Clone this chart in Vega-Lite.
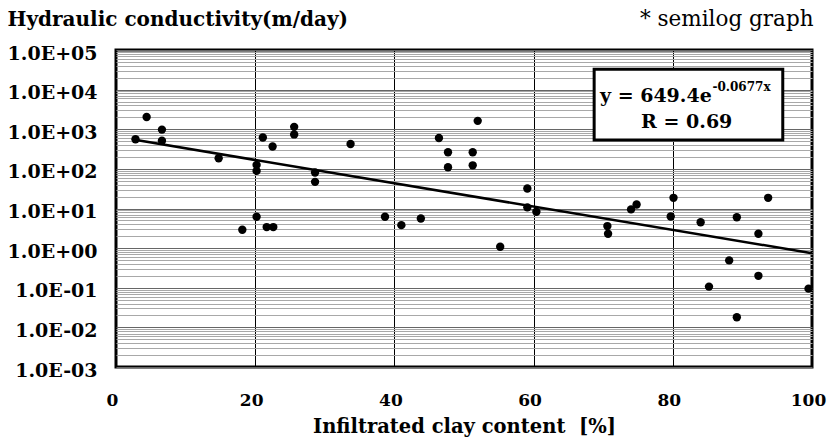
{
  "$schema": "https://vega.github.io/schema/vega-lite/v6.json",
  "width": 696,
  "height": 317,
  "autosize": "none",
  "padding": {"left": 116, "top": 50, "right": 17, "bottom": 71},
  "background": "white",
  "config": {
    "view": {"stroke": "black", "strokeWidth": 3},
    "axis": {"labelColor": "black", "titleColor": "black"}
  },
  "datasets": {
    "points": [
      {"clay": 2.8, "k": 560},
      {"clay": 4.4, "k": 2040},
      {"clay": 6.6, "k": 980},
      {"clay": 6.6, "k": 515},
      {"clay": 14.75, "k": 186},
      {"clay": 18.15, "k": 2.9},
      {"clay": 20.2, "k": 126},
      {"clay": 20.2, "k": 89},
      {"clay": 20.2, "k": 6.2},
      {"clay": 21.1, "k": 620},
      {"clay": 21.65, "k": 3.4},
      {"clay": 22.5, "k": 366},
      {"clay": 22.6, "k": 3.4},
      {"clay": 25.6, "k": 1150},
      {"clay": 25.6, "k": 740},
      {"clay": 28.6, "k": 81},
      {"clay": 28.6, "k": 47},
      {"clay": 33.7, "k": 425},
      {"clay": 38.65, "k": 6.2},
      {"clay": 41.0, "k": 3.8},
      {"clay": 43.8, "k": 5.6},
      {"clay": 46.4, "k": 600},
      {"clay": 47.7, "k": 263},
      {"clay": 47.7, "k": 110},
      {"clay": 51.25, "k": 263},
      {"clay": 51.25, "k": 123},
      {"clay": 51.97, "k": 1630},
      {"clay": 55.2, "k": 1.08},
      {"clay": 59.1, "k": 32},
      {"clay": 59.1, "k": 10.7},
      {"clay": 60.4, "k": 8.3},
      {"clay": 70.6, "k": 3.6},
      {"clay": 70.7, "k": 2.3},
      {"clay": 74.0, "k": 9.5},
      {"clay": 74.8, "k": 12.6},
      {"clay": 79.7, "k": 6.3},
      {"clay": 80.1, "k": 18.6},
      {"clay": 84.0, "k": 4.5},
      {"clay": 85.2, "k": 0.107},
      {"clay": 88.1, "k": 0.49},
      {"clay": 89.2, "k": 6.0},
      {"clay": 89.2, "k": 0.018},
      {"clay": 92.3, "k": 2.3},
      {"clay": 92.3, "k": 0.2},
      {"clay": 93.7, "k": 18.6},
      {"clay": 99.5, "k": 0.095}
    ],
    "trend": [
      {"clay": 2.5, "k": 548.3},
      {"clay": 100, "k": 0.7446}
    ],
    "box": [
      {"x1": 68.7, "x2": 95.8, "y1": 32600, "y2": 533}
    ],
    "labels": [
      {"clay": 85.6, "k": 4775, "label": "y = 649.4e", "kind": "main", "align": "right"},
      {"clay": 85.7, "k": 9220, "label": "-0.0677x", "kind": "sup", "align": "left"},
      {"clay": 82.0, "k": 1054, "label": "R = 0.69", "kind": "main", "align": "center"}
    ]
  },
  "resolve": {"axis": {"y": "independent"}},
  "layer": [
    {
      "data": {"name": "trend"},
      "mark": {"type": "line", "color": "black", "strokeWidth": 2.5},
      "encoding": {
        "x": {
          "field": "clay", "type": "quantitative",
          "scale": {"domain": [0, 100], "nice": false, "zero": false},
          "axis": {
            "values": [0, 20, 40, 60, 80, 100],
            "grid": true, "gridColor": "black", "gridWidth": 1, "gridOpacity": 1,
            "domain": false, "ticks": false, "labelFlush": false, "labelOffset": -4,
            "labelFont": "DejaVu Serif", "labelFontWeight": "bold", "labelFontSize": 17,
            "labelPadding": 25,
            "title": "Infiltrated clay content\u00a0\u00a0[%]",
            "titleFont": "DejaVu Serif", "titleFontWeight": "bold", "titleFontSize": 19.5,
            "titlePadding": 9
          }
        },
        "y": {
          "field": "k", "type": "quantitative",
          "scale": {"type": "log", "domain": [0.001, 100000], "nice": false},
          "axis": {
            "orient": "left",
            "values": [0.002,0.003,0.004,0.005,0.006,0.007,0.008,0.009,
                       0.02,0.03,0.04,0.05,0.06,0.07,0.08,0.09,
                       0.2,0.3,0.4,0.5,0.6,0.7,0.8,0.9,
                       2,3,4,5,6,7,8,9,
                       20,30,40,50,60,70,80,90,
                       200,300,400,500,600,700,800,900,
                       2000,3000,4000,5000,6000,7000,8000,9000,
                       20000,30000,40000,50000,60000,70000,80000,90000],
            "grid": true, "gridColor": "#a8a8a8", "gridWidth": 1, "gridOpacity": 1,
            "labels": false, "ticks": false, "domain": false,
            "title": "* semilog graph",
            "titleFont": "DejaVu Serif", "titleFontWeight": "normal", "titleFontSize": 21.5,
            "titleAngle": 0, "titleAlign": "right", "titleBaseline": "alphabetic",
            "titleX": 697, "titleY": -25
          }
        }
      }
    },
    {
      "data": {"name": "points"},
      "mark": {"type": "point", "shape": "circle", "filled": true, "color": "black", "size": 70, "opacity": 1},
      "encoding": {
        "x": {"field": "clay", "type": "quantitative"},
        "y": {
          "field": "k", "type": "quantitative",
          "axis": {
            "orient": "left",
            "values": [0.001, 0.01, 0.1, 1, 10, 100, 1000, 10000, 100000],
            "grid": true, "gridColor": "#666666", "gridWidth": 1.2, "gridOpacity": 1,
            "ticks": false, "domain": false, "labelOffset": 3,
            "labelExpr": "'1.0E' + (datum.value >= 1 ? '+' : '-') + (abs(round(log(datum.value)/LN10)) < 10 ? '0' : '') + abs(round(log(datum.value)/LN10))",
            "labelFont": "DejaVu Serif", "labelFontWeight": "bold", "labelFontSize": 19,
            "labelPadding": 19,
            "title": "Hydraulic conductivity(m/day)",
            "titleFont": "DejaVu Serif", "titleFontWeight": "bold", "titleFontSize": 20,
            "titleAngle": 0, "titleAlign": "left", "titleBaseline": "alphabetic",
            "titleX": -109, "titleY": -25
          }
        }
      }
    },
    {
      "data": {"name": "box"},
      "mark": {"type": "rect", "fill": "white", "stroke": "black", "strokeWidth": 3},
      "encoding": {
        "x": {"field": "x1", "type": "quantitative"},
        "x2": {"field": "x2"},
        "y": {"field": "y1", "type": "quantitative", "axis": null},
        "y2": {"field": "y2"}
      }
    },
    {
      "data": {"name": "labels"},
      "transform": [{"filter": "datum.kind == 'main' && datum.align == 'right'"}],
      "mark": {"type": "text", "font": "DejaVu Serif", "fontWeight": "bold", "fontSize": 19, "align": "right", "baseline": "alphabetic", "color": "black"},
      "encoding": {
        "x": {"field": "clay", "type": "quantitative"},
        "y": {"field": "k", "type": "quantitative", "axis": null},
        "text": {"field": "label"}
      }
    },
    {
      "data": {"name": "labels"},
      "transform": [{"filter": "datum.kind == 'sup'"}],
      "mark": {"type": "text", "font": "DejaVu Serif", "fontWeight": "bold", "fontSize": 12, "align": "left", "baseline": "alphabetic", "color": "black"},
      "encoding": {
        "x": {"field": "clay", "type": "quantitative"},
        "y": {"field": "k", "type": "quantitative", "axis": null},
        "text": {"field": "label"}
      }
    },
    {
      "data": {"name": "labels"},
      "transform": [{"filter": "datum.align == 'center'"}],
      "mark": {"type": "text", "font": "DejaVu Serif", "fontWeight": "bold", "fontSize": 19, "align": "center", "baseline": "alphabetic", "color": "black"},
      "encoding": {
        "x": {"field": "clay", "type": "quantitative"},
        "y": {"field": "k", "type": "quantitative", "axis": null},
        "text": {"field": "label"}
      }
    }
  ]
}
